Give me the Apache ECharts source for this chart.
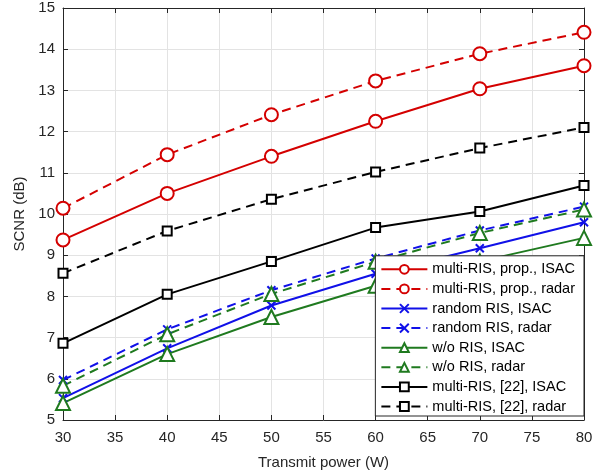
<!DOCTYPE html>
<html>
<head>
<meta charset="utf-8">
<script src="https://cdn.jsdelivr.net/npm/echarts@6/dist/echarts.min.js"></script>
<style>
  html, body { margin: 0; padding: 0; background: #fff; }
  #chart { width: 607px; height: 476px; }
</style>
</head>
<body>
<div id="chart"></div>
<script>
// transmit power (W)
const power = [30, 40, 50, 60, 70, 80];

// SCNR (dB)
const propIsac   = [9.37, 10.5, 11.4, 12.25, 13.04, 13.6];
const propRadar  = [10.14, 11.44, 12.41, 13.23, 13.89, 14.41];
const randIsac   = [5.53, 6.74, 7.78, 8.55, 9.17, 9.8];
const randRadar  = [5.97, 7.2, 8.15, 8.92, 9.6, 10.18];
const woIsac     = [5.41, 6.6, 7.5, 8.26, 8.85, 9.42];
const woRadar    = [5.83, 7.08, 8.06, 8.84, 9.54, 10.11];
const ref22Isac  = [6.86, 8.05, 8.85, 9.67, 10.06, 10.69];
const ref22Radar = [8.56, 9.59, 10.36, 11.02, 11.6, 12.1];

const RED = '#d40000', BLUE = '#1010e8', GREEN = '#1f7a1f', BLACK = '#000000';
const FONT = '"Liberation Sans", Arial, sans-serif';
const crossPath = 'path://M0,0L10,10M10,0L0,10';

function mk(name, vals, color, dashed, symbol, size) {
  return {
    name: name,
    type: 'line',
    data: power.map((p, i) => [p, vals[i]]),
    symbol: symbol,
    symbolSize: size,
    showAllSymbol: true,
    lineStyle: { color: color, width: 2, type: dashed ? [9, 6] : 'solid' },
    itemStyle: {
      color: symbol === crossPath ? 'none' : '#ffffff',
      borderColor: color,
      borderWidth: 2
    },
    emphasis: { disabled: true },
    animation: false
  };
}

const chart = echarts.init(document.getElementById('chart'), null, { renderer: 'canvas' });

const axisCommon = {
  type: 'value',
  axisLine: { show: true, lineStyle: { color: '#262626', width: 1 } },
  axisTick: { show: true, inside: true, length: 5, lineStyle: { color: '#262626' } }
};

chart.setOption({
  backgroundColor: '#ffffff',
  animation: false,
  textStyle: { fontFamily: FONT },
  grid: { left: 63, right: 23, top: 8, bottom: 56, containLabel: false },
  legend: {
    right: 23,
    bottom: 60,
    orient: 'vertical',
    backgroundColor: '#ffffff',
    borderColor: '#262626',
    borderWidth: 1,
    borderRadius: 0,
    padding: [6, 9, 2, 5],
    itemWidth: 46,
    itemHeight: 11,
    itemGap: 4.6,
    textStyle: { fontFamily: FONT, fontSize: 14.5, lineHeight: 14, color: '#000' },
    data: [
      'multi-RIS, prop., ISAC', 'multi-RIS, prop., radar',
      'random RIS, ISAC', 'random RIS, radar',
      'w/o RIS, ISAC', 'w/o RIS, radar',
      'multi-RIS, [22], ISAC', 'multi-RIS, [22], radar'
    ]
  },
  xAxis: [
    Object.assign({}, axisCommon, {
      min: 30, max: 80, interval: 5,
      name: 'Transmit power (W)',
      nameLocation: 'middle',
      nameGap: 35,
      nameTextStyle: { fontFamily: FONT, fontSize: 15, color: '#262626' },
      axisLabel: { fontFamily: FONT, fontSize: 15, color: '#262626', margin: 10 },
      splitLine: { show: true, lineStyle: { color: '#e3e3e3', width: 1 } }
    }),
    Object.assign({}, axisCommon, {
      position: 'top', min: 30, max: 80, interval: 5,
      axisLabel: { show: false }, splitLine: { show: false }
    })
  ],
  yAxis: [
    Object.assign({}, axisCommon, {
      min: 5, max: 15, interval: 1,
      name: 'SCNR (dB)',
      nameLocation: 'middle',
      nameGap: 26,
      nameTextStyle: { fontFamily: FONT, fontSize: 15, color: '#262626' },
      axisLabel: { fontFamily: FONT, fontSize: 15, color: '#262626', margin: 8 },
      splitLine: { show: true, lineStyle: { color: '#e3e3e3', width: 1 } }
    }),
    Object.assign({}, axisCommon, {
      position: 'right', min: 5, max: 15, interval: 1,
      axisLabel: { show: false }, splitLine: { show: false }
    })
  ],
  series: [
    mk('multi-RIS, prop., ISAC', propIsac, RED, false, 'circle', 13),
    mk('multi-RIS, prop., radar', propRadar, RED, true, 'circle', 13),
    mk('random RIS, ISAC', randIsac, BLUE, false, crossPath, 8),
    mk('random RIS, radar', randRadar, BLUE, true, crossPath, 8),
    mk('w/o RIS, ISAC', woIsac, GREEN, false, 'triangle', 14),
    mk('w/o RIS, radar', woRadar, GREEN, true, 'triangle', 14),
    mk('multi-RIS, [22], ISAC', ref22Isac, BLACK, false, 'rect', 9),
    mk('multi-RIS, [22], radar', ref22Radar, BLACK, true, 'rect', 9)
  ]
});
</script>
</body>
</html>
